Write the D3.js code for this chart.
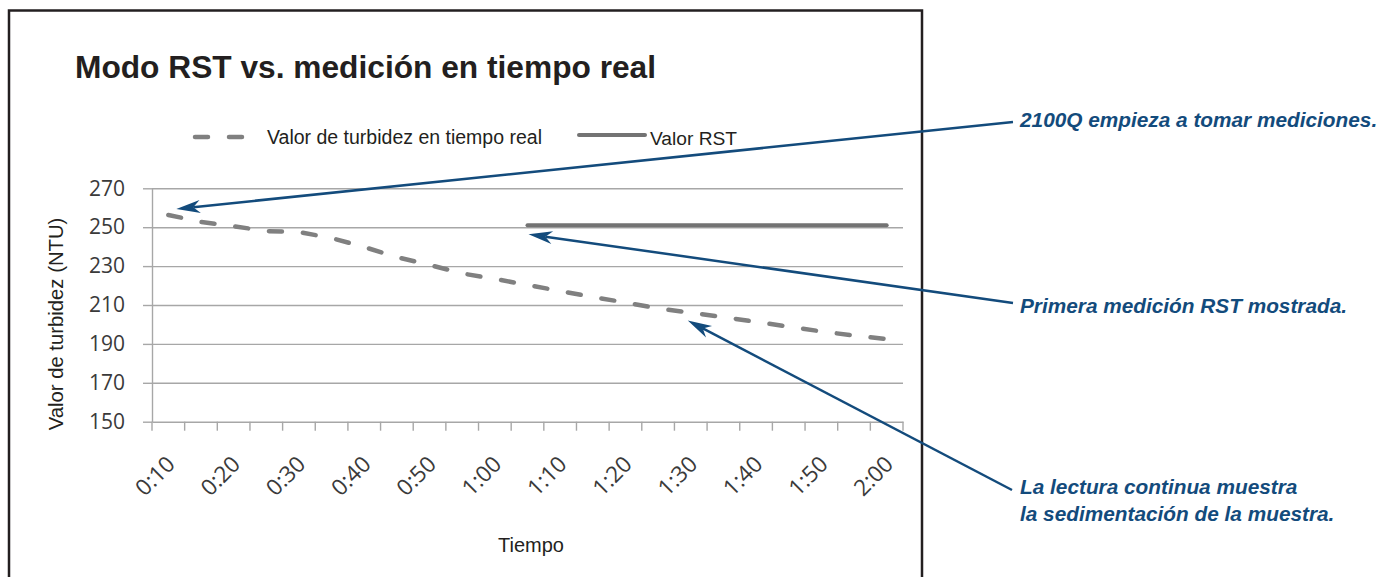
<!DOCTYPE html>
<html><head><meta charset="utf-8">
<script src="https://cdn.jsdelivr.net/npm/d3@7/dist/d3.min.js"></script>
<style>body{margin:0;background:#fff}svg{display:block}</style></head>
<body><svg id="c" width="1390" height="577"></svg>
<script>
const categories = ["0:10","0:15","0:20","0:25","0:30","0:35","0:40","0:45","0:50","0:55","1:00","1:05","1:10","1:15","1:20","1:25","1:30","1:35","1:40","1:45","1:50","1:55","2:00"];
const realTimeValues = [256.3,252.7,250.5,248.0,247.5,244.4,239.8,234.6,230.6,226.2,223.4,220.3,217.2,214.1,211.3,208.2,206.1,203.8,201.3,198.9,196.4,194.3,192.5];
const rstValues = [null,null,null,null,null,null,null,null,null,null,null,251,251,251,251,251,251,251,251,251,251,251,251];
const xTickLabels = ["0:10","0:20","0:30","0:40","0:50","1:00","1:10","1:20","1:30","1:40","1:50","2:00"];
const yTickValues = [150,170,190,210,230,250,270];
const seriesNames = ["Valor de turbidez en tiempo real","Valor RST"];
const chartTitle = "Modo RST vs. medición en tiempo real";
const xTitle = "Tiempo";
const yTitle = "Valor de turbidez (NTU)";
const annotationLines = [
  ["2100Q empieza a tomar mediciones."],
  ["Primera medición RST mostrada."],
  ["La lectura continua muestra","la sedimentación de la muestra."]
];
const annotationTargets = [["0:10",256.3],["1:05",251],["1:30",206.1]];

const svg = d3.select("#c");
svg.append("rect").attr("width",1390).attr("height",577).attr("fill","#fff");

const x = d3.scaleBand().domain(categories).range([152,903]).padding(0);
const y = d3.scaleLinear().domain([150,270]).range([421.7,188.3]);
const cx = d => x(d) + x.bandwidth()/2;

const gridColor = "#a7a7a7", ink = "#231f20", blue = "#134b7c";

// frame
svg.append("path").attr("d","M9,580V10.5H922V580").attr("fill","none").attr("stroke",ink).attr("stroke-width",2.5);

// title
svg.append("text").attr("x",75).attr("y",78).text(chartTitle)
  .attr("font-family","'Liberation Sans',Arial,sans-serif").attr("font-weight","bold")
  .attr("font-size",31.7).attr("fill",ink);

// gridlines
const grid = svg.append("g").attr("transform","translate(152,0)")
  .call(d3.axisLeft(y).tickValues(yTickValues.filter(v=>v>150)).tickSize(-(903-152)).tickFormat(""));
grid.select(".domain").remove();
grid.selectAll("line").attr("stroke",gridColor).attr("stroke-width",1.4);

// y axis
const ya = svg.append("g").attr("transform","translate(152,0)")
  .call(d3.axisLeft(y).tickValues(yTickValues).tickSize(9).tickSizeOuter(0).tickPadding(18));
ya.select(".domain").attr("stroke",gridColor).attr("stroke-width",1.4);
ya.selectAll("line").attr("stroke",gridColor).attr("stroke-width",1.4);
ya.selectAll("text").attr("font-family","'Open Sans',sans-serif").attr("font-size",21).attr("fill","#3a3a3a");

// x axis line
const xa = svg.append("g").attr("transform",`translate(0,${y(150)})`)
  .call(d3.axisBottom(x).tickValues(xTickLabels).tickSize(0).tickSizeOuter(0));
xa.select(".domain").attr("stroke",gridColor).attr("stroke-width",1.4);
xa.selectAll(".tick text")
  .attr("font-family","'Open Sans',sans-serif").attr("font-size",22.5).attr("fill","#3a3a3a")
  .attr("text-anchor","end").attr("dy",0).attr("y",0)
  .attr("transform","translate(8,44) rotate(-45)");
// boundary tick marks
const bounds = categories.map(c => x(c)).concat([x.range()[1]]);
xa.selectAll("line.bt").data(bounds).join("line").attr("class","bt")
  .attr("x1",d=>d).attr("x2",d=>d).attr("y1",0).attr("y2",9)
  .attr("stroke",gridColor).attr("stroke-width",1.4);

// axis titles
svg.append("text").attr("x",531).attr("y",552).attr("text-anchor","middle").text(xTitle)
  .attr("font-family","'Liberation Sans',Arial,sans-serif").attr("font-size",20).attr("fill",ink);
svg.append("text").attr("transform","translate(63,324) rotate(-90)").attr("text-anchor","middle").text(yTitle)
  .attr("font-family","'Liberation Sans',Arial,sans-serif").attr("font-size",20.3).attr("fill",ink);

// series
const lineGen = d3.line().defined(d => d.v != null).x(d => cx(d.c)).y(d => y(d.v));
const rtData = categories.map((c,i)=>({c, v: realTimeValues[i]}));
const rstData = categories.map((c,i)=>({c, v: rstValues[i]}));
const dashStyle = s => s.attr("fill","none").attr("stroke","#808080").attr("stroke-width",4.5)
  .attr("stroke-dasharray","13 21").attr("stroke-linecap","round").attr("stroke-linejoin","round");
const solidStyle = s => s.attr("fill","none").attr("stroke","#737373").attr("stroke-width",4)
  .attr("stroke-linecap","round");
svg.append("path").datum(rtData).attr("d",lineGen).call(dashStyle);
svg.append("path").datum(rstData).attr("d",lineGen).call(solidStyle);

// legend
svg.append("line").attr("x1",195).attr("x2",247).attr("y1",137).attr("y2",137).call(dashStyle);
svg.append("text").attr("x",267).attr("y",144).text(seriesNames[0])
  .attr("font-family","'Liberation Sans',Arial,sans-serif").attr("font-size",19.5).attr("fill",ink);
svg.append("line").attr("x1",579).attr("x2",645).attr("y1",135).attr("y2",135).call(solidStyle);
svg.append("text").attr("x",650).attr("y",145).text(seriesNames[1])
  .attr("font-family","'Liberation Sans',Arial,sans-serif").attr("font-size",19.2).attr("fill",ink);

// annotations
const tipOffsets = [[8,-6],[1,9],[-3,8]];
const starts = [[1013,122],[1013,303],[1012,490]];
const textPos = [[1020,127],[1020,313],[1020,494]];
annotationTargets.forEach((t,i) => {
  const tx = cx(t[0]) + tipOffsets[i][0], ty = y(t[1]) + tipOffsets[i][1];
  const [sx,sy] = starts[i];
  const ang = Math.atan2(ty - sy, tx - sx);
  const L = 24, W = 6.5, N = 17;
  const ux = Math.cos(ang), uy = Math.sin(ang), px = -uy, py = ux;
  svg.append("line").attr("x1",sx).attr("y1",sy).attr("x2",tx-ux*N).attr("y2",ty-uy*N)
    .attr("stroke",blue).attr("stroke-width",2.5);
  const pts = [[tx,ty],[tx-ux*L+px*W,ty-uy*L+py*W],[tx-ux*N,ty-uy*N],[tx-ux*L-px*W,ty-uy*L-py*W]];
  svg.append("path").attr("d","M"+pts.map(p=>p.join(",")).join("L")+"Z").attr("fill",blue);
  const te = svg.append("text").attr("x",textPos[i][0]).attr("y",textPos[i][1])
    .attr("font-family","'Liberation Sans',Arial,sans-serif").attr("font-style","italic")
    .attr("font-weight","bold").attr("font-size",20.8).attr("fill",blue);
  annotationLines[i].forEach((ln,j) => te.append("tspan").attr("x",textPos[i][0]).attr("dy", j ? 26.7 : 0).text(ln));
});
</script></body></html>
